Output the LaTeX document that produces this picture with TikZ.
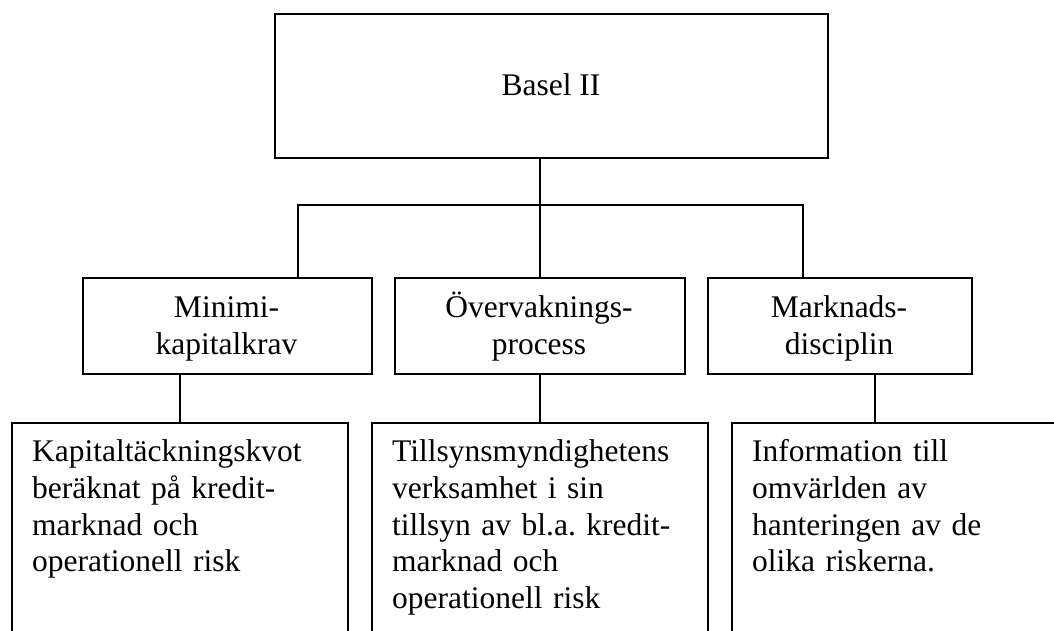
\documentclass[tikz,border=0pt]{standalone}
\usepackage{fontspec}
\setmainfont{Liberation Serif}
\begin{document}
\frenchspacing
\begin{tikzpicture}[x=1pt,y=-1pt,
  box/.style={draw, line width=2pt, inner sep=0pt, anchor=north west},
  link/.style={line width=2pt},
  txt/.style={font=\fontsize{31.5}{36.7}\selectfont, inner sep=0pt},
  ctxt/.style={txt, anchor=base, text width=280pt, align=center},
  ltxt/.style={txt, anchor=base west, text width=320pt, align=left}]
\clip (0,0) rectangle (1054,631);
% boxes
\node[box, minimum width=553pt, minimum height=144pt] (basel) at (274,13) {};
\node[box, minimum width=289pt, minimum height=96pt] (m1) at (82,277) {};
\node[box, minimum width=290pt, minimum height=96pt] (m2) at (394,277) {};
\node[box, minimum width=264pt, minimum height=96pt] (m3) at (707,277) {};
\node[box, minimum width=336pt, minimum height=250pt] (b1) at (11,422) {};
\node[box, minimum width=336pt, minimum height=250pt] (b2) at (371,422) {};
\node[box, minimum width=336pt, minimum height=250pt] (b3) at (731,422) {};
% connector points
\coordinate (barL) at (298,205);
\coordinate (barR) at (803,205);
\coordinate (c3) at (875,0);
% connectors
\draw[link] (basel.south -| m2.north) -- (m2.north);
\draw[link] (barL |- m1.north) -- (barL) -- (barR) -- (barR |- m3.north);
\draw[link] (m1.south -| b1.north) -- (b1.north);
\draw[link] (m2.south -| b2.north) -- (b2.north);
\draw[link] (m3.south -| c3) -- (b3.north -| c3);
% texts
\node[txt, anchor=base] (tbasel) at (551,95.4) {Basel II};
\node[ctxt] (t1) at (226.5,317.3) {Minimi-\\kapitalkrav};
\node[ctxt] (t2) at (539,317.3) {Övervaknings-\\process};
\node[ctxt] (t3) at (839,317.3) {Marknads-\\disciplin};
\node[ltxt] (u1) at (32,461.7) {Kapitaltäckningskvot\\beräknat på kredit-\\marknad och\\operationell risk};
\node[ltxt] (u2) at (392,461.7) {Tillsynsmyndighetens\\verksamhet i sin\\tillsyn av bl.a. kredit-\\marknad och\\operationell risk};
\node[ltxt] (u3) at (752,461.7) {Information till\\omvärlden av\\hanteringen av de\\olika riskerna.};
\end{tikzpicture}
\end{document}
